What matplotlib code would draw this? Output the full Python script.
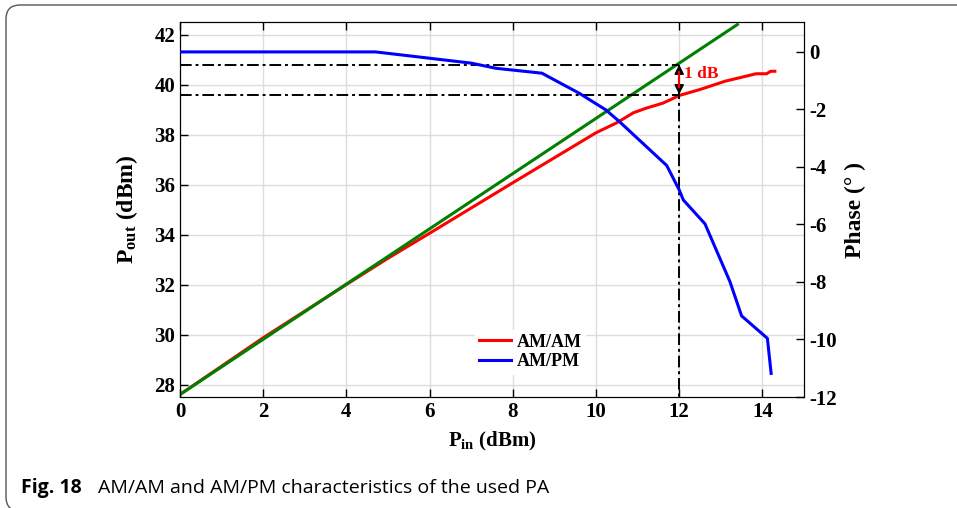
import matplotlib
matplotlib.use("Agg")
import matplotlib.pyplot as plt
from matplotlib.patches import FancyBboxPatch
from matplotlib.lines import Line2D
from matplotlib.transforms import IdentityTransform

# ---- data ----
am_pin = [0, 2, 4, 5, 6, 8, 10, 10.5, 10.9, 11.2, 11.4, 11.6, 11.8, 12.0,
          12.5, 13.1, 13.45, 13.85, 14.1, 14.2, 14.3]
am_pout = [27.6, 29.87, 32.0, 33.05, 34.05, 36.07, 38.07, 38.47, 38.87, 39.05,
           39.15, 39.25, 39.4, 39.56, 39.8, 40.13, 40.27, 40.43, 40.43, 40.53, 40.53]
pm_pin = [0, 4.7, 6, 7, 7.6, 8.7, 9.6, 10.24, 10.56, 11.7, 12.0, 12.1, 12.62,
          13.22, 13.5, 14.12, 14.21]
pm_phase = [0, 0, -0.22, -0.39, -0.57, -0.74, -1.44, -2.02, -2.42, -3.95, -4.8,
            -5.15, -5.98, -7.99, -9.18, -9.96, -11.18]
lin_pin = [0, 13.4]
lin_pout = [27.6, 42.4]
p1db_pin = 12
p1db_lin = 40.8
p1db_out = 39.6
x_ticks = [0, 2, 4, 6, 8, 10, 12, 14]
y_ticks = [28, 30, 32, 34, 36, 38, 40, 42]
ph_ticks = [-12, -10, -8, -6, -4, -2, 0]

plt.rcParams['font.family'] = 'Liberation Serif'
plt.rcParams['font.weight'] = 'bold'
plt.rcParams['axes.unicode_minus'] = False
plt.rcParams['mathtext.fontset'] = 'custom'
plt.rcParams['mathtext.bf'] = 'Liberation Serif:bold'
plt.rcParams['mathtext.rm'] = 'Liberation Serif:bold'
plt.rcParams['mathtext.it'] = 'Liberation Serif:bold'

W, H = 957, 508
fig = plt.figure(figsize=(W / 100, H / 100), dpi=100)
L, R, T, B = 180, 804, 22, 397
ax = fig.add_axes([L / W, 1 - B / H, (R - L) / W, (B - T) / H])

# border (display pixel coords, origin bottom-left)
box = FancyBboxPatch((6, -3), 1200, H - 2, boxstyle="round,pad=0,rounding_size=14",
                     transform=IdentityTransform(), fill=False, edgecolor='#555555', lw=1.0)
fig.patches.append(box)

ax.set_xlim(0, 15)
ax.set_ylim(27.5, 42.5)
ax.set_xticks(x_ticks)
ax.set_yticks(y_ticks)
ax.grid(True, color='#dddddd', lw=1.0)
ax.set_axisbelow(True)
ax.tick_params(direction='in', length=6, labelsize=15, top=True, width=1.0)
for lab in ax.get_xticklabels() + ax.get_yticklabels():
    lab.set_fontweight('bold')

ax.plot(am_pin, am_pout, color='red', lw=2.2, zorder=3)
ax.plot(lin_pin, lin_pout, color='green', lw=2.2, zorder=4)

dd = dict(color='black', lw=1.4, dashes=[6, 2, 1.5, 2], zorder=5)
ax.plot([0, p1db_pin], [p1db_lin, p1db_lin], **dd)
ax.plot([0, p1db_pin], [p1db_out, p1db_out], **dd)
ax.plot([p1db_pin, p1db_pin], [p1db_lin, 27.5], **dd)

ax.annotate('', xy=(p1db_pin, p1db_lin), xytext=(p1db_pin, p1db_out),
            arrowprops=dict(arrowstyle='<|-|>', color='black', lw=1.2,
                            mutation_scale=14, shrinkA=0, shrinkB=0,
                            facecolor='white'), zorder=6)
ax.plot([p1db_pin, p1db_pin], [p1db_out + 0.3, p1db_lin - 0.3], color='red', lw=1.5, zorder=7)
ax.text(12.12, 40.42, '1 dB', color='red', fontsize=12.5, fontweight='bold',
        va='center', ha='left', zorder=8)

ax.set_xlabel(r'$\mathbf{P_{in}}$ (dBm)', fontsize=15, fontweight='bold', labelpad=6)
ax.set_ylabel(r'$\mathbf{P_{out}}$ (dBm)', fontsize=17, fontweight='bold', labelpad=10)

ax2 = ax.twinx()
ax2.set_ylim(-12, 1.04)
ax2.set_yticks(ph_ticks)
ax2.tick_params(direction='in', length=6, labelsize=15, width=1.0)
for lab in ax2.get_yticklabels():
    lab.set_fontweight('bold')
ax2.plot(pm_pin, pm_phase, color='blue', lw=2.2, zorder=3)
ax2.set_ylabel('Phase (° )', fontsize=17, fontweight='bold', labelpad=6)

handles = [Line2D([], [], color='red', lw=2.2), Line2D([], [], color='blue', lw=2.2)]
leg = ax2.legend(handles, ['AM/AM', 'AM/PM'], loc='center left',
                 bbox_to_anchor=(466 / W, 1 - 352 / H), bbox_transform=fig.transFigure,
                 frameon=True, fancybox=False, edgecolor='white', framealpha=1,
                 prop={'family': 'Liberation Serif', 'weight': 'bold', 'size': 13},
                 handlelength=1.8, handletextpad=0.3, labelspacing=0.15, borderpad=0.2)

# caption
fig.text(21 / W, 1 - 488 / H, 'Fig. 18', family=['Open Sans', 'DejaVu Sans'], weight='bold',
         fontsize=14, va='center', ha='left')
fig.text(98 / W, 1 - 488 / H, 'AM/AM and AM/PM characteristics of the used PA',
         family=['Open Sans', 'DejaVu Sans'], weight='normal', fontsize=14,
         va='center', ha='left')

fig.savefig('out.png', dpi=100)
